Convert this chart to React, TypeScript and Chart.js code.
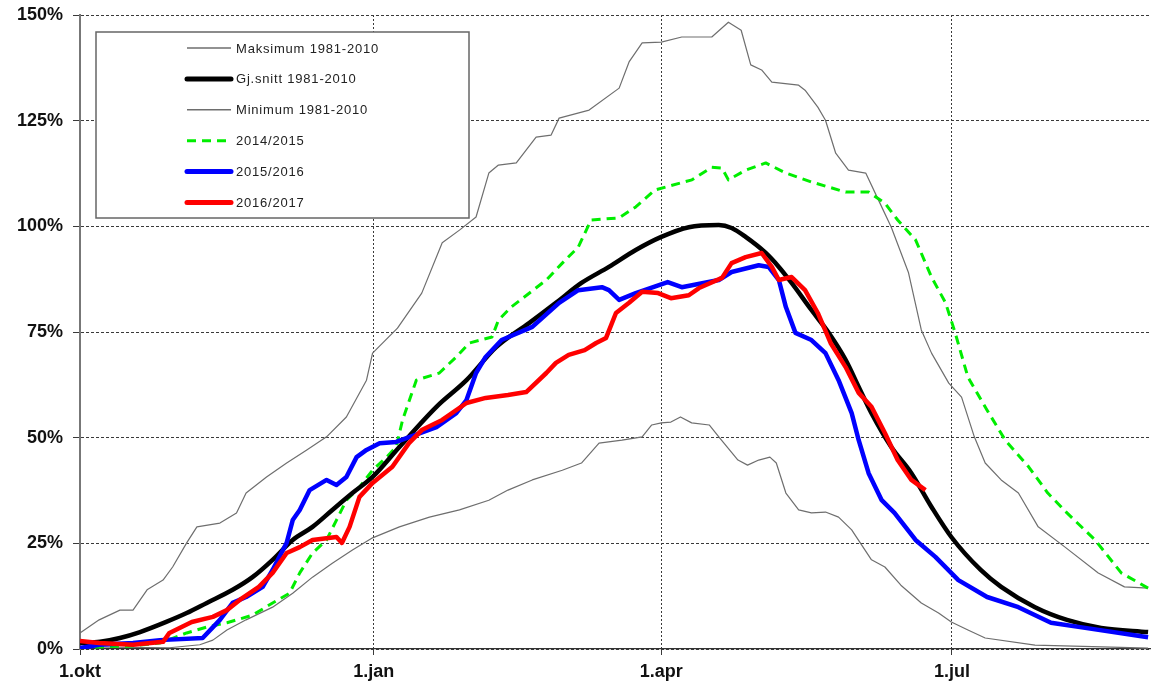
import React, { useEffect, useRef } from "react";
import { Chart, registerables } from "chart.js";

Chart.register(...registerables);

// x = days since 1 October, y = percent of normal seasonal maximum
const tickDays = [0, 92, 182, 273];
const tickLabels = ["1.okt", "1.jan", "1.apr", "1.jul"];
const yTicks = [0, 25, 50, 75, 100, 125, 150];

const seriesNames = [
  "Maksimum 1981-2010",
  "Gj.snitt 1981-2010",
  "Minimum 1981-2010",
  "2014/2015",
  "2015/2016",
  "2016/2017",
];

const maxDays = [0, 6, 12.5, 16.6, 21, 26, 29, 33.4, 36.6, 43.8, 49, 52, 58.4, 64.7, 71, 77.2, 83.4, 89.7, 91.6, 99.4, 107, 113.4, 118.8, 124, 128, 131, 136.6, 142.8, 147.5, 150, 159.4, 168.8, 171.9, 176, 182, 188.4, 197.8, 203, 207, 210, 213.4, 216.6, 225, 227, 231, 233.4, 236.6, 240.6, 246, 250, 254, 259.4, 263.4, 266.6, 272, 276, 280, 283.4, 288.4, 293.8, 300, 308.4, 318.8, 327, 334.4];
const maxValues = [3.8, 6.9, 9.2, 9.2, 14.0, 16.3, 19.4, 25.1, 28.9, 29.8, 32.2, 36.9, 40.7, 44.0, 47.1, 50.2, 54.9, 63.6, 70.0, 75.9, 84.2, 96.1, 99.1, 102.2, 112.6, 114.5, 115.0, 121.1, 121.6, 125.6, 127.5, 132.7, 138.9, 143.4, 143.6, 144.8, 144.8, 148.3, 146.4, 138.2, 137.0, 134.1, 133.4, 132.2, 128.2, 125.1, 117.3, 113.3, 112.6, 106.2, 99.8, 89.0, 75.5, 70.0, 62.9, 59.6, 50.2, 44.0, 40.0, 36.9, 28.9, 24.1, 18.0, 14.7, 14.4];

const avgDays = [0, 6.3, 12.5, 18.8, 27, 33.4, 39.7, 47.8, 54, 60.3, 66.6, 72.8, 79, 85.3, 91.6, 100, 111.6, 121, 130.3, 140.6, 149, 157, 165.6, 174, 182, 190.6, 200, 204, 208.4, 214.7, 218.8, 222.8, 229, 234.4, 239.7, 243.8, 247.8, 254, 260.3, 266.6, 272.8, 282, 288.4, 299, 309, 319.7, 334.4];
const avgValues = [1.4, 1.7, 2.6, 4.0, 6.4, 8.5, 10.9, 14.0, 17.0, 21.1, 25.8, 28.9, 32.9, 36.9, 40.7, 47.8, 57.3, 63.6, 71.4, 77.1, 81.9, 86.6, 90.4, 94.4, 97.5, 99.8, 100.3, 99.6, 97.5, 93.7, 90.4, 86.6, 80.2, 74.8, 68.4, 62.0, 55.8, 47.8, 41.6, 33.6, 26.5, 18.7, 14.7, 9.9, 6.9, 5.0, 4.0];

const minDays = [0, 28, 37.5, 41.6, 46, 52, 60.3, 66.6, 72.8, 79, 85.3, 91.6, 100, 109.4, 118.8, 128, 134, 141.6, 151, 157, 162.5, 169.7, 176, 179, 182, 185, 188, 191.5, 197, 200, 206, 209, 212.5, 216, 218, 221, 225, 229, 233.4, 237.5, 241.6, 247.8, 252, 257, 263.4, 268.8, 272.8, 278, 283.4, 299, 320, 334.4];
const minValues = [0.5, 0.3, 1.0, 2.1, 4.5, 6.9, 9.9, 13.2, 17.0, 20.3, 23.4, 26.3, 28.9, 31.2, 32.9, 35.2, 37.6, 40.0, 42.3, 44.0, 48.7, 49.4, 50.2, 53.0, 53.5, 53.7, 54.9, 53.5, 53.0, 50.2, 44.7, 43.5, 44.7, 45.4, 44.0, 36.9, 32.9, 32.2, 32.4, 31.2, 28.2, 21.1, 19.4, 15.1, 10.9, 8.5, 6.4, 4.5, 2.6, 0.9, 0.5, 0.2];

const s1415Days = [0, 6, 15.6, 25, 33.4, 39.7, 46, 54, 60.3, 65.6, 68.8, 72.8, 77.2, 80.3, 83.4, 87.5, 91.6, 96, 99, 101, 105.3, 112.5, 117.8, 121.9, 129, 131, 135, 146, 151, 156, 160, 168.8, 174, 180, 191.6, 197.8, 201, 203, 208.4, 214.7, 221, 229, 239.7, 246.9, 252, 256, 261.6, 266.6, 271, 274, 278, 284, 289.7, 297, 303, 309, 317.8, 326, 334.4];
const s1415Values = [0.2, 0.5, 0.7, 1.4, 3.8, 5.2, 6.2, 8.0, 10.9, 13.2, 18.0, 22.7, 25.8, 30.5, 35.2, 38.3, 42.3, 45.4, 47.8, 54.2, 63.6, 65.3, 69.1, 72.4, 73.8, 77.8, 80.9, 87.3, 91.3, 95.1, 101.5, 102.0, 104.6, 108.6, 111.0, 114.0, 113.8, 111.0, 113.3, 115.0, 112.6, 110.5, 108.1, 108.1, 105.5, 101.5, 96.8, 88.0, 81.9, 74.8, 64.3, 56.5, 49.4, 43.1, 36.9, 32.2, 25.8, 18.0, 14.4];

const s1516Days = [0, 6, 16.6, 25, 38.4, 43.8, 47.8, 52, 57.2, 60.3, 64.7, 66.6, 68.8, 71.9, 77.2, 80.3, 83.4, 86.6, 89.7, 93.8, 99, 111.6, 117.8, 121, 124, 127, 132, 141.6, 150, 156, 163.4, 165.6, 168.8, 174, 184, 188.4, 200, 204, 212.5, 215.6, 218.8, 221, 224, 229, 233.4, 237.5, 241.6, 243.8, 246.9, 251, 255, 261.6, 267.8, 275, 284, 293.8, 304, 314.7, 334.4];
const s1516Values = [0.2, 1.0, 1.4, 2.1, 2.6, 6.9, 10.9, 12.3, 14.7, 18.7, 25.1, 30.5, 32.9, 37.6, 40.0, 38.8, 40.7, 45.4, 47.1, 48.7, 49.0, 52.5, 55.8, 58.9, 65.3, 69.1, 73.1, 76.2, 81.9, 84.9, 85.6, 84.9, 82.6, 84.2, 86.8, 85.6, 87.3, 89.2, 90.8, 90.4, 87.3, 80.9, 74.8, 73.1, 70.0, 63.6, 55.8, 49.4, 41.6, 35.2, 32.2, 25.8, 21.8, 16.3, 12.3, 9.9, 6.2, 5.0, 2.8];

const s1617Days = [0, 6, 16.6, 26, 28, 35, 41.6, 46, 50, 56, 60.3, 64.7, 68.8, 72.8, 80.3, 82, 84.4, 87.5, 91.6, 97.8, 103, 107, 113.4, 121, 127, 134, 139.7, 146, 149, 153, 158, 161.6, 164.7, 167.8, 171.9, 176, 181, 185, 190.6, 193.8, 201, 204, 208.4, 213.4, 216.6, 218.8, 222.8, 227, 231, 235, 239.7, 243.8, 247.8, 252, 256, 260.3, 264.7];
const s1617Values = [1.9, 1.4, 1.0, 1.7, 3.8, 6.4, 7.6, 9.2, 11.6, 14.7, 18.0, 22.7, 24.1, 25.8, 26.5, 25.1, 28.9, 36.0, 39.3, 43.1, 48.7, 51.8, 54.2, 58.2, 59.4, 60.1, 60.8, 65.3, 67.7, 69.6, 70.7, 72.4, 73.6, 79.5, 81.9, 84.5, 84.2, 83.0, 83.7, 85.4, 87.8, 91.3, 92.7, 93.7, 90.4, 87.3, 88.0, 84.9, 79.5, 72.4, 66.7, 60.6, 57.3, 51.1, 44.7, 40.0, 37.6];

const toPoints = (days: number[], vals: number[]) => days.map((d, i) => ({ x: d, y: vals[i] }));

const FONT = "'Liberation Sans', Arial, Helvetica, sans-serif";

const legendBoxPlugin = {
  id: "legendBox",
  afterDatasetsDraw(chart: any) {
    const { ctx, chartArea } = chart;
    const x0 = chartArea.left + 16;
    const y0 = chartArea.top + 17;
    const w = 373;
    const h = 186;
    ctx.save();
    ctx.fillStyle = "#ffffff";
    ctx.fillRect(x0, y0, w, h);
    ctx.strokeStyle = "#666666";
    ctx.lineWidth = 1.5;
    ctx.strokeRect(x0, y0, w, h);
    const datasets = chart.data.datasets;
    datasets.forEach((ds: any, i: number) => {
      const y = y0 + 16 + i * 30.9;
      ctx.beginPath();
      ctx.strokeStyle = ds.borderColor;
      ctx.lineWidth = ds.legendWidth || ds.borderWidth;
      ctx.setLineDash(ds.borderDash || []);
      ctx.lineCap = ds.borderWidth > 2 && !ds.borderDash ? "round" : "butt";
      ctx.moveTo(x0 + 91, y);
      ctx.lineTo(x0 + 135, y);
      ctx.stroke();
      ctx.setLineDash([]);
      ctx.fillStyle = "#222222";
      ctx.font = `13px ${FONT}`;
      (ctx as any).letterSpacing = "0.8px";
      ctx.textBaseline = "middle";
      ctx.textAlign = "left";
      ctx.fillText(ds.label, x0 + 140, y + 1);
      (ctx as any).letterSpacing = "0px";
    });
    ctx.restore();
  },
};

export default function App() {
  const canvasRef = useRef<HTMLCanvasElement | null>(null);

  useEffect(() => {
    if (!canvasRef.current) return;
    const chart = new Chart(canvasRef.current, {
      type: "line",
      data: {
        datasets: [
          {
            label: seriesNames[0],
            data: toPoints(maxDays, maxValues),
            borderColor: "#6e6e6e",
            borderWidth: 1.2,
            legendWidth: 1.5,
            pointRadius: 0,
            order: 5,
          } as any,
          {
            label: seriesNames[1],
            data: toPoints(avgDays, avgValues),
            borderColor: "#000000",
            borderWidth: 4.5,
            legendWidth: 5,
            pointRadius: 0,
            cubicInterpolationMode: "monotone",
            order: 2,
          },
          {
            label: seriesNames[2],
            data: toPoints(minDays, minValues),
            borderColor: "#6e6e6e",
            borderWidth: 1.2,
            legendWidth: 1.5,
            pointRadius: 0,
            order: 6,
          },
          {
            label: seriesNames[3],
            data: toPoints(s1415Days, s1415Values),
            borderColor: "#00ee00",
            borderWidth: 3,
            borderDash: [9, 6],
            pointRadius: 0,
            order: 3,
          },
          {
            label: seriesNames[4],
            data: toPoints(s1516Days, s1516Values),
            borderColor: "#0000ff",
            borderWidth: 4.5,
            legendWidth: 5,
            pointRadius: 0,
            order: 1,
          },
          {
            label: seriesNames[5],
            data: toPoints(s1617Days, s1617Values),
            borderColor: "#ff0000",
            borderWidth: 4.5,
            legendWidth: 5,
            pointRadius: 0,
            order: 0,
          },
        ] as any,
      },
      options: {
        responsive: false,
        animation: false,
        devicePixelRatio: 1,
        layout: { padding: { left: 0, top: 15, right: 3, bottom: 0 } },
        plugins: {
          legend: { display: false },
          tooltip: { enabled: false },
        },
        elements: { line: { tension: 0, borderJoinStyle: "round" } },
        scales: {
          x: {
            type: "linear",
            min: 0,
            max: 335,
            afterBuildTicks: (scale: any) => {
              scale.ticks = tickDays.map((v) => ({ value: v }));
            },
            afterFit: (scale: any) => {
              scale.height = 38;
            },
            ticks: {
              autoSkip: false,
              maxRotation: 0,
              padding: 6,
              color: "#111111",
              font: { family: FONT, size: 18, weight: "bold" },
              callback: (v: any) => {
                const idx = tickDays.indexOf(Number(v));
                return idx >= 0 ? tickLabels[idx] : "";
              },
            },
            grid: {
              color: "#3a3a3a",
              lineWidth: 1,
              tickLength: 6,
              drawOnChartArea: true,
            },
            border: { display: true, color: "#333333", width: 1.2, dash: [2, 2] },
          } as any,
          y: {
            type: "linear",
            min: 0,
            max: 150,
            afterBuildTicks: (scale: any) => {
              scale.ticks = yTicks.map((v) => ({ value: v }));
            },
            afterFit: (scale: any) => {
              scale.width = 80;
              scale.paddingTop = 0;
              scale.paddingBottom = 0;
            },
            ticks: {
              padding: 10,
              color: "#111111",
              font: { family: FONT, size: 18, weight: "bold" },
              callback: (v: any) => `${v}%`,
            },
            grid: {
              color: "#3a3a3a",
              lineWidth: 1,
              tickLength: 7,
            },
            border: { display: true, color: "#777777", width: 2, dash: [3, 2] },
          } as any,
        },
      },
      plugins: [legendBoxPlugin],
    } as any);

    return () => chart.destroy();
  }, []);

  return (
    <div style={{ position: "absolute", left: 0, top: 0, width: 1153, height: 687, background: "#fff" }}>
      <canvas ref={canvasRef} width={1153} height={687} />
    </div>
  );
}
